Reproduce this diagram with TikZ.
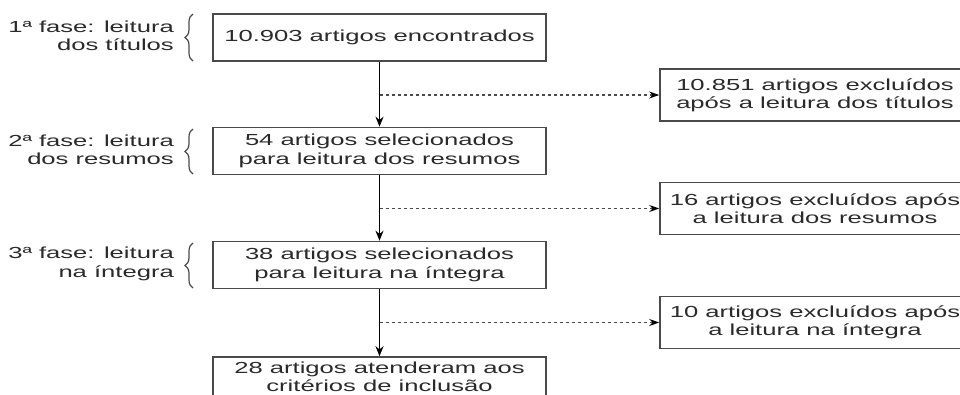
\documentclass[tikz,border=0pt]{standalone}
\usepackage{fontspec}
\setmainfont{Liberation Sans}[FakeStretch=1.6]
\usetikzlibrary{arrows.meta,decorations.pathreplacing}
\definecolor{txt}{HTML}{2A2A2A}
\definecolor{bord}{HTML}{4A4A4A}
\begin{document}
\begin{tikzpicture}[x=1pt,y=-1pt,
  box/.style={draw=bord, line width=1.6pt, fill=white, text=txt, align=center, inner sep=0pt, font=\fontsize{16}{18.4}\selectfont},
  mainbox/.style={box, minimum width=333pt, minimum height=47pt},
  sidebox/.style={box, minimum width=310pt, minimum height=52pt},
  phase/.style={anchor=east, align=right, text=txt, inner sep=0pt, font=\fontsize{16}{18.4}\selectfont},
  flow/.style={line width=1.8pt, draw=black, -{Stealth[length=10pt,width=8pt]}},
  skip/.style={line width=1.1pt, draw=bord, dash pattern=on 3.5pt off 2.5pt, -{Stealth[length=10pt,width=7pt,color=black]}},
  brc/.style={draw=bord, line width=1.2pt, decorate, decoration={brace, amplitude=8pt}}
]
\useasboundingbox (0,0) rectangle (960,394);
\clip (0,0) rectangle (960,394);

% main column
\node[mainbox] (m1) at (379.5,37.5) {10.903 artigos encontrados};
\node[mainbox] (m2) at (379.5,151) {54 artigos selecionados\\para leitura dos resumos};
\node[mainbox] (m3) at (379.5,265) {38 artigos selecionados\\para leitura na íntegra};
\node[box, minimum width=333pt, minimum height=40pt] (m4) at (379.5,377) {28 artigos atenderam aos\\critérios de inclusão};

% side boxes
\node[sidebox] (r1) at (815,95) {10.851 artigos excluídos\\após a leitura dos títulos};
\node[sidebox] (r2) at (815,208.5) {16 artigos excluídos após\\a leitura dos resumos};
\node[sidebox] (r3) at (815,322.5) {10 artigos excluídos após\\a leitura na íntegra};

% phase labels
\node[phase] (p1) at (174,36) {1ª fase: leitura\\dos títulos};
\node[phase] (p2) at (174,150) {2ª fase: leitura\\dos resumos};
\node[phase] (p3) at (174,264) {3ª fase: leitura\\na íntegra};

% braces
\coordinate (b1t) at (193,14);  \coordinate (b1b) at (193,61);
\coordinate (b2t) at (193,129); \coordinate (b2b) at (193,174);
\coordinate (b3t) at (193,243); \coordinate (b3b) at (193,288);
\draw[brc] (b1b) -- (b1t);
\draw[brc] (b2b) -- (b2t);
\draw[brc] (b3b) -- (b3t);

% flow arrows
\draw[flow] (m1) -- (m2);
\draw[flow] (m2) -- (m3);
\draw[flow] (m3) -- (m4);

% exclusion arrows
\draw[skip] (m1.south |- r1.west) -- (r1.west);
\draw[skip] (m2.south |- r2.west) -- (r2.west);
\draw[skip] (m3.south |- r3.west) -- (r3.west);
\end{tikzpicture}
\end{document}
